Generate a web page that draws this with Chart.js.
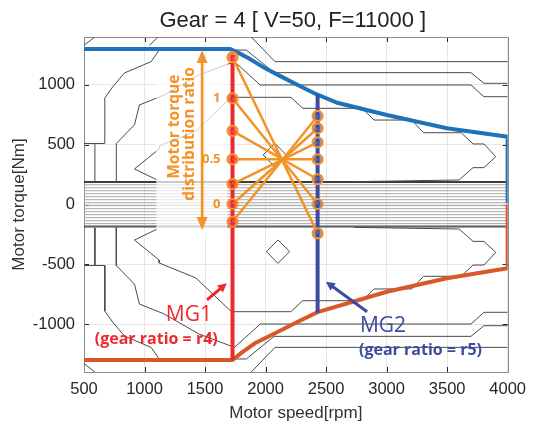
<!DOCTYPE html>
<html lang="en">
<head>
<meta charset="UTF-8">
<title>Gear 4 motor map</title>
<script src="https://cdn.jsdelivr.net/npm/chart.js@4"></script>
<style>
  html, body { margin: 0; padding: 0; background: #fff; }
  .chart-box { position: relative; width: 534px; height: 427px; }
</style>
</head>
<body>
<div class="chart-box"><canvas id="gearMap"></canvas></div>
<script>
// ---- values: speed [rpm], torque [Nm] ----
const speedTicks = [500, 1000, 1500, 2000, 2500, 3000, 3500, 4000];
const torqueTicks = [-1000, -500, 0, 500, 1000];

const maxTorque = [[500,1300],[1708,1300],[1780,1265],[1857,1225],[1994,1140],[2130,1069],[2266,999],[2403,930],[2593,850],[3002,748],[3498,637],[4000,567],[4000,10]];
const minTorque = [[500,-1300],[1727,-1300],[1800,-1240],[1912,-1160],[2103,-1063],[2266,-980],[2430,-900],[3002,-729],[3498,-617],[4000,-533],[4000,0]];

const mg1Speed = 1727;
const mg2Speed = 2430;
const mg1Span = [1250, -1300];
const mg2Span = [915, -905];
// distribution points, MG1 point i is joined to MG2 point i
const mg1Points = [1231, 888, 615, 378, 171, 4, -144];
const mg2Points = [-241, 4, 211, 378, 520, 637, 740];
const ratioLabels = ['1', '0.5', '0'];
const ratioLabelTorque = [888, 378, 4];

// dense near-zero contours
const bandTorque = [192, 184, 165, 140, 115, 90, 65, 40, 15, -10, -35, -60, -85, -110, -135, -160, -180, -188];

// efficiency map contours
const contourLines = [
  [[500,1330],[590,1400]],
  [[500,-1330],[590,-1400]],
  [[1040,1330],[1110,1400]],
  [[1882,1400],[2078,1194],[4000,1194]],
  [[1882,-1400],[2078,-1194],[4000,-1194]],
  [[590,195],[590,510]],
  [[590,-195],[590,-510]],
  [[500,510],[672,510],[672,891],[737,983],[835,1100],[1054,1194],[1121,1291],[1841,1291],[2070,1102],[3697,1102],[3804,1013],[4000,1013]],
  [[500,-510],[672,-510],[672,-891],[737,-983],[835,-1100],[1054,-1194],[1121,-1291],[1841,-1291],[2070,-1102],[3697,-1102],[3804,-1013],[4000,-1013]],
  [[767,190],[767,510],[917,666],[958,832],[1162,915],[1449,1082],[1743,1194],[1956,999],[3697,999],[3804,901],[4000,901]],
  [[767,-190],[767,-510],[917,-666],[958,-832],[1162,-915],[1449,-1082],[1743,-1194],[1956,-999],[3697,-999],[3804,-901],[4000,-901]],
  [[1105,205],[917,297],[1121,464],[1121,489],[1424,614],[1718,896],[2209,896],[2307,804],[2798,804],[2896,706],[3207,706],[3305,600],[3616,600],[3714,506],[3804,506],[3902,400],[3804,308],[3714,308],[3599,205],[2732,191]],
  [[1105,-205],[917,-297],[1121,-464],[1121,-489],[1424,-614],[1718,-896],[2209,-896],[2307,-804],[2798,-804],[2896,-706],[3207,-706],[3305,-600],[3616,-600],[3714,-506],[3804,-506],[3902,-400],[3804,-308],[3714,-308],[3599,-205],[2732,-191]],
  [[1980,414],[2076,512],[2172,414],[2076,316],[1980,414]],
  [[2007,-394],[2103,-296],[2199,-394],[2103,-492],[2007,-394]]
];

// colours
const C_MAX = '#1f72b8', C_MIN = '#d9582a', C_MG1 = '#ec2a2e', C_MG2 = '#3c4ba0', C_RATIO = '#f39226';
const toXY = pts => pts.map(p => ({ x: p[0], y: p[1] }));

const datasets = [];
contourLines.forEach(line => datasets.push({
  data: toXY(line), borderColor: '#4a4a4a', borderWidth: 1, pointRadius: 0, order: 20
}));
bandTorque.forEach((t, i) => datasets.push({
  data: toXY([[500, t], [4000, t]]),
  borderColor: (i < 2 || i > bandTorque.length - 3) ? '#3a3a3a' : '#a8a8a8',
  borderWidth: 1, pointRadius: 0, order: 21
}));
datasets.push({ label: 'max', data: toXY(maxTorque), borderColor: C_MAX, borderWidth: 4, pointRadius: 0, order: 7, fadeBelow: true });
datasets.push({ label: 'min', data: toXY(minTorque), borderColor: C_MIN, borderWidth: 4, pointRadius: 0, order: 6 });
datasets.push({ label: 'MG1', data: toXY([[mg1Speed, mg1Span[0]], [mg1Speed, mg1Span[1]]]), borderColor: C_MG1, borderWidth: 4, pointRadius: 0, order: 5 });
datasets.push({ label: 'MG2', data: toXY([[mg2Speed, mg2Span[0]], [mg2Speed, mg2Span[1]]]), borderColor: C_MG2, borderWidth: 4, pointRadius: 0, order: 5 });
mg1Points.forEach((t, i) => datasets.push({
  data: toXY([[mg1Speed, t], [mg2Speed, mg2Points[i]]]),
  borderColor: C_RATIO, borderWidth: 2.5, pointRadius: 0, order: 4
}));
datasets.push({ data: mg1Points.map(t => ({ x: mg1Speed, y: t })), showLine: false, pointRadius: 5, pointBorderWidth: 2.2, pointBorderColor: C_RATIO, pointBackgroundColor: 'rgba(236,42,46,0.6)', order: 3 });
datasets.push({ data: mg2Points.map(t => ({ x: mg2Speed, y: t })), showLine: false, pointRadius: 5, pointBorderWidth: 2.2, pointBorderColor: C_RATIO, pointBackgroundColor: 'rgba(60,75,160,0.6)', order: 3 });

function drawArrow(ctx, x1, y1, x2, y2, color, width, len, half, both) {
  const a = Math.atan2(y2 - y1, x2 - x1);
  const head = (hx, hy, ang) => {
    ctx.beginPath();
    ctx.moveTo(hx, hy);
    ctx.lineTo(hx - len * Math.cos(ang) + half * Math.sin(ang), hy - len * Math.sin(ang) - half * Math.cos(ang));
    ctx.lineTo(hx - len * Math.cos(ang) - half * Math.sin(ang), hy - len * Math.sin(ang) + half * Math.cos(ang));
    ctx.closePath();
    ctx.fill();
  };
  ctx.save();
  ctx.strokeStyle = color; ctx.fillStyle = color; ctx.lineWidth = width;
  ctx.beginPath();
  ctx.moveTo(both ? x1 + (len - 2) * Math.cos(a) : x1, both ? y1 + (len - 2) * Math.sin(a) : y1);
  ctx.lineTo(x2 - (len - 2) * Math.cos(a), y2 - (len - 2) * Math.sin(a));
  ctx.stroke();
  head(x2, y2, a);
  if (both) head(x1, y1, a + Math.PI);
  ctx.restore();
}

const mapDecor = {
  id: 'mapDecor',
  beforeDatasetsDraw(chart) {
    const { ctx, chartArea: a, scales: { x, y } } = chart;
    ctx.save();
    ctx.strokeStyle = '#262626';
    ctx.lineWidth = 1;
    speedTicks.forEach(v => {
      const p = Math.round(x.getPixelForValue(v)) + 0.5;
      ctx.beginPath(); ctx.moveTo(p, a.bottom); ctx.lineTo(p, a.bottom - 5);
      ctx.moveTo(p, a.top); ctx.lineTo(p, a.top + 5); ctx.stroke();
    });
    torqueTicks.forEach(v => {
      const p = Math.round(y.getPixelForValue(v)) + 0.5;
      ctx.beginPath(); ctx.moveTo(a.left, p); ctx.lineTo(a.left + 5, p);
      ctx.moveTo(a.right, p); ctx.lineTo(a.right - 5, p); ctx.stroke();
    });
    ctx.strokeStyle = '#8c8c8c';
    ctx.strokeRect(Math.round(a.left) + 0.5, Math.round(a.top) + 0.5, Math.round(a.width), Math.round(a.height));
    ctx.restore();
  },
  beforeDatasetDraw(chart, args) {
    const ds = chart.data.datasets[args.index];
    if (!ds.fadeBelow) return;
    const { ctx, scales: { x, y } } = chart;
    const x0 = x.getPixelForValue(1097), x1 = x.getPixelForValue(1686);
    const y0 = y.getPixelForValue(1240), y1 = y.getPixelForValue(-250);
    ctx.save();
    ctx.fillStyle = 'rgba(255,255,255,0.72)';
    ctx.fillRect(x0, y0, x1 - x0, y1 - y0);
    ctx.restore();
  },
  afterDatasetsDraw(chart) {
    const { ctx, chartArea: a, scales: { x, y } } = chart;
    const X = v => x.getPixelForValue(v), Y = v => y.getPixelForValue(v);
    ctx.save();
    // title
    ctx.fillStyle = '#222';
    ctx.font = '22px "Liberation Sans", Arial, sans-serif';
    ctx.textAlign = 'center'; ctx.textBaseline = 'alphabetic';
    ctx.fillText('Gear = 4 [ V=50, F=11000 ]', (a.left + a.right) / 2 - 3, 26.5);

    // distribution ratio double arrow + caption
    drawArrow(ctx, X(1476), Y(1291), X(1476), Y(-213), C_RATIO, 2.7, 13, 5.5, true);
    ctx.fillStyle = C_RATIO;
    ctx.font = 'bold 15.5px "Open Sans", sans-serif';
    ctx.textAlign = 'center'; ctx.textBaseline = 'middle';
    ctx.save(); ctx.translate(X(1252), Y(650)); ctx.rotate(-Math.PI / 2); ctx.fillText('Motor torque', 0, 0); ctx.restore();
    ctx.save(); ctx.translate(X(1372), Y(590)); ctx.rotate(-Math.PI / 2); ctx.fillText('distribution ratio', 0, 0); ctx.restore();
    ctx.font = 'bold 13px "Open Sans", sans-serif';
    ctx.textAlign = 'right';
    ratioLabels.forEach((s, i) => ctx.fillText(s, X(1628), Y(ratioLabelTorque[i])));

    // MG1
    drawArrow(ctx, X(1516), Y(-798), X(1680), Y(-658), C_MG1, 3, 9, 4.5, false);
    ctx.fillStyle = C_MG1; ctx.textAlign = 'center';
    ctx.font = '21px "Open Sans", sans-serif';
    ctx.fillText('MG1', X(1367), Y(-924));
    ctx.font = 'bold 16px "Open Sans", sans-serif';
    ctx.fillText('(gear ratio = r4)', X(1097), Y(-1124));

    // MG2
    drawArrow(ctx, X(2839), Y(-896), X(2498), Y(-645), C_MG2, 3, 9, 4.5, false);
    ctx.fillStyle = C_MG2;
    ctx.font = '21px "Open Sans", sans-serif';
    ctx.fillText('MG2', X(2970), Y(-1016));
    ctx.font = 'bold 16px "Open Sans", sans-serif';
    ctx.fillText('(gear ratio = r5)', X(3280), Y(-1216));
    ctx.restore();
  }
};

const tickFont = { family: '"Liberation Sans", Arial, sans-serif', size: 16.5 };
const titleFont = { family: '"Liberation Sans", Arial, sans-serif', size: 17 };

new Chart(document.getElementById('gearMap'), {
  type: 'line',
  data: { datasets },
  options: {
    responsive: true,
    maintainAspectRatio: false,
    animation: false,
    parsing: false,
    layout: { padding: { top: 37, right: 22, left: 0, bottom: 0 } },
    plugins: { legend: { display: false }, tooltip: { enabled: false } },
    scales: {
      x: {
        type: 'linear', min: 500, max: 4000,
        afterBuildTicks: s => { s.ticks = speedTicks.map(v => ({ value: v })); },
        afterFit: s => { s.height = 55; },
        ticks: { color: '#262626', padding: 8, maxRotation: 0, font: tickFont, callback: v => String(v) },
        grid: { color: '#e6e6e6', drawTicks: false },
        border: { display: false },
        title: { display: true, text: 'Motor speed[rpm]', color: '#333', padding: { top: 0, bottom: 3 }, font: titleFont }
      },
      y: {
        type: 'linear', min: -1400, max: 1400,
        afterBuildTicks: s => { s.ticks = torqueTicks.map(v => ({ value: v })); },
        afterFit: s => { s.width = 84; },
        ticks: { color: '#262626', padding: 9, font: tickFont, callback: v => String(v) },
        grid: { color: '#e6e6e6', drawTicks: false },
        border: { display: false },
        title: { display: true, text: 'Motor torque[Nm]', color: '#333', padding: { top: 9, bottom: 0 }, font: titleFont }
      }
    }
  },
  plugins: [mapDecor]
});
</script>
</body>
</html>
